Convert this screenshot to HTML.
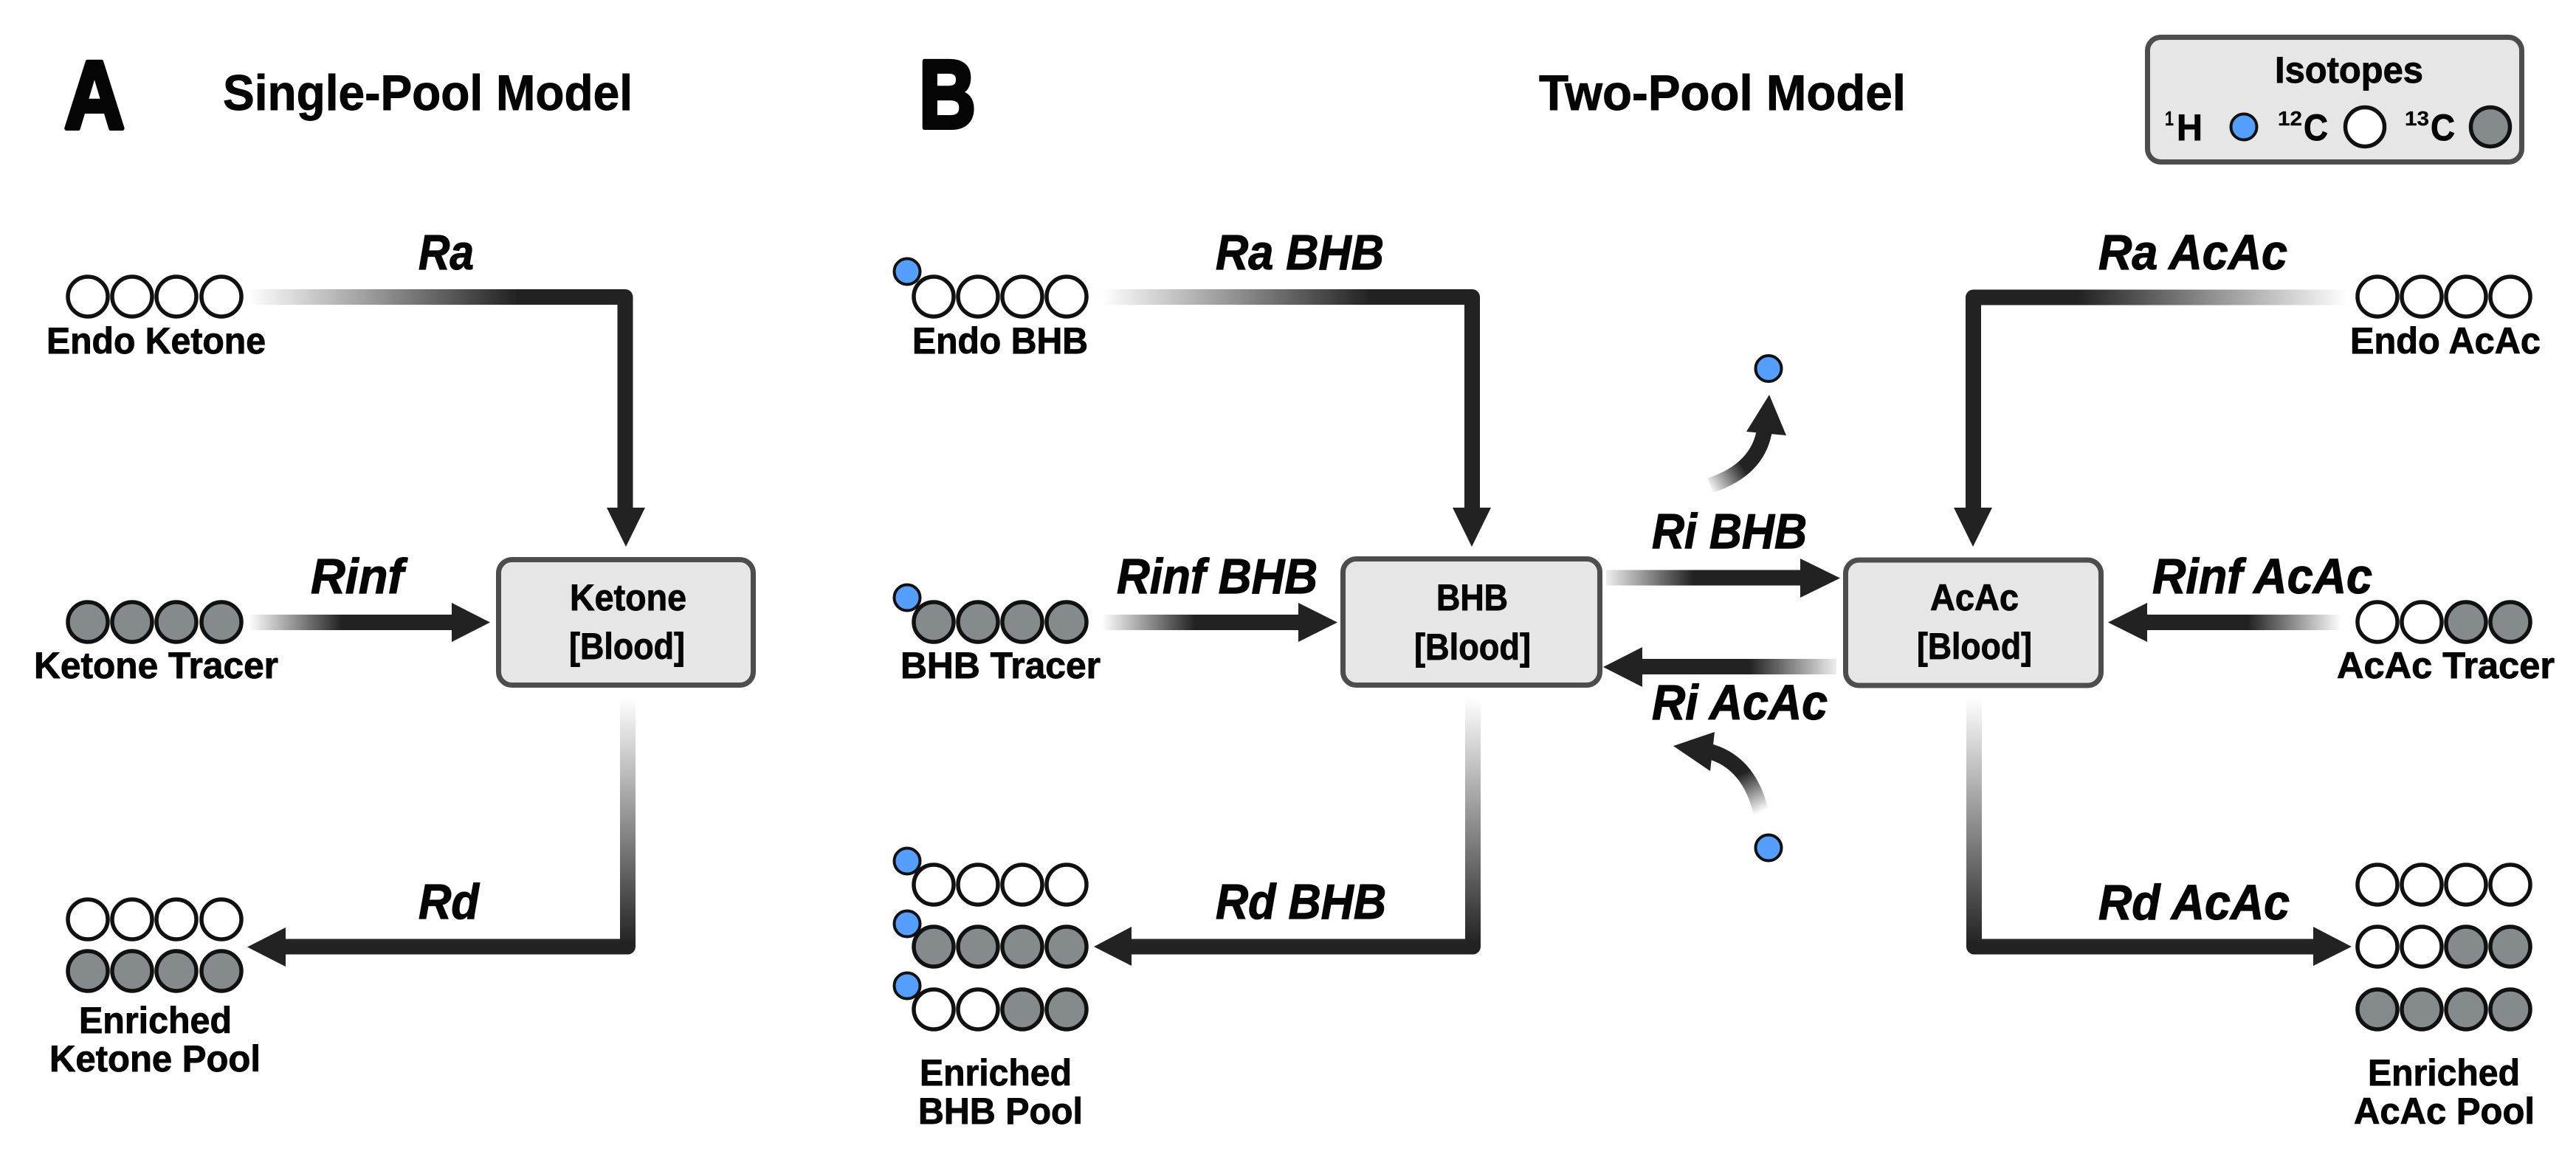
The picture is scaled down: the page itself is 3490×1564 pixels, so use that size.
<!DOCTYPE html>
<html>
<head>
<meta charset="utf-8">
<style>
html,body{margin:0;padding:0;background:#fff;width:3490px;height:1564px;overflow:hidden}
svg{display:block}
text{font-family:"Liberation Sans",sans-serif;font-weight:700;fill:#050505;stroke:#050505;stroke-width:.9}
.t{font-size:68px}
.l{font-size:50px}
.r{font-size:67px;font-style:italic;stroke-width:1.2}
.b{font-size:50px}
.s{font-size:28px;stroke-width:.3}
.big{font-size:131px;stroke-width:6;stroke-linejoin:round}
.w{fill:#fff;stroke:#111;stroke-width:5.5}
.g{fill:#858a8c;stroke:#111;stroke-width:5.5}
.h{fill:#549ffd;stroke:#111;stroke-width:4}
.box{fill:#e6e6e6;stroke:#4d4d4d;stroke-width:7}
.a{fill:none;stroke-width:21;stroke-linejoin:round}
.d{fill:#222}
</style>
</head>
<body>
<svg width="3490" height="1564" viewBox="0 0 3490 1564" xmlns="http://www.w3.org/2000/svg">
<defs>
<linearGradient id="g1" gradientUnits="userSpaceOnUse" x1="337" y1="0" x2="700" y2="0"><stop offset="0" stop-color="#fff"/><stop offset="1" stop-color="#222"/></linearGradient>
<linearGradient id="g2" gradientUnits="userSpaceOnUse" x1="337" y1="0" x2="463" y2="0"><stop offset="0" stop-color="#fff"/><stop offset="1" stop-color="#222"/></linearGradient>
<linearGradient id="g3" gradientUnits="userSpaceOnUse" x1="0" y1="946" x2="0" y2="1280"><stop offset="0" stop-color="#fff"/><stop offset="1" stop-color="#222"/></linearGradient>
<linearGradient id="g4" gradientUnits="userSpaceOnUse" x1="1493" y1="0" x2="1856" y2="0"><stop offset="0" stop-color="#fff"/><stop offset="1" stop-color="#222"/></linearGradient>
<linearGradient id="g5" gradientUnits="userSpaceOnUse" x1="1493" y1="0" x2="1619" y2="0"><stop offset="0" stop-color="#fff"/><stop offset="1" stop-color="#222"/></linearGradient>
<linearGradient id="g6" gradientUnits="userSpaceOnUse" x1="3180" y1="0" x2="2815" y2="0"><stop offset="0" stop-color="#fff"/><stop offset="1" stop-color="#222"/></linearGradient>
<linearGradient id="g7" gradientUnits="userSpaceOnUse" x1="3172" y1="0" x2="3046" y2="0"><stop offset="0" stop-color="#fff"/><stop offset="1" stop-color="#222"/></linearGradient>
<linearGradient id="g8" gradientUnits="userSpaceOnUse" x1="2176" y1="0" x2="2294" y2="0"><stop offset="0" stop-color="#eee"/><stop offset="1" stop-color="#222"/></linearGradient>
<linearGradient id="g9" gradientUnits="userSpaceOnUse" x1="2488" y1="0" x2="2370" y2="0"><stop offset="0" stop-color="#eee"/><stop offset="1" stop-color="#222"/></linearGradient>
<linearGradient id="g10" gradientUnits="userSpaceOnUse" x1="2314" y1="660" x2="2360" y2="630"><stop offset="0" stop-color="#fff"/><stop offset="1" stop-color="#222"/></linearGradient>
<linearGradient id="g11" gradientUnits="userSpaceOnUse" x1="2386" y1="1101" x2="2360" y2="1048"><stop offset="0" stop-color="#fff"/><stop offset="1" stop-color="#222"/></linearGradient>
</defs>

<!-- Headings -->
<text class="big" x="87" y="174" textLength="82" lengthAdjust="spacingAndGlyphs">A</text>
<text class="t" x="302" y="149" textLength="555" lengthAdjust="spacingAndGlyphs">Single-Pool Model</text>
<text class="big" x="1245" y="173" textLength="77" lengthAdjust="spacingAndGlyphs">B</text>
<text class="t" x="2085" y="149" textLength="497" lengthAdjust="spacingAndGlyphs">Two-Pool Model</text>

<!-- Legend -->
<rect class="box" x="2909.5" y="50.5" width="507" height="169" rx="18"/>
<text class="b" x="3082" y="112" textLength="201" lengthAdjust="spacingAndGlyphs">Isotopes</text>
<text class="s" x="2933" y="170" textLength="12" lengthAdjust="spacingAndGlyphs">1</text>
<text class="b" x="2949" y="190" textLength="35" lengthAdjust="spacingAndGlyphs">H</text>
<circle class="h" cx="3040" cy="172" r="17.5"/>
<text class="s" x="3086" y="170" textLength="33" lengthAdjust="spacingAndGlyphs">12</text>
<text class="b" x="3121" y="190" textLength="33" lengthAdjust="spacingAndGlyphs">C</text>
<circle class="w" cx="3204" cy="172" r="26.5"/>
<text class="s" x="3258" y="170" textLength="33" lengthAdjust="spacingAndGlyphs">13</text>
<text class="b" x="3293" y="190" textLength="33" lengthAdjust="spacingAndGlyphs">C</text>
<circle class="g" cx="3374" cy="172" r="26.5"/>

<!-- Panel A -->
<path class="a" stroke="url(#g1)" d="M337 402.5H847V690"/>
<polygon class="d" points="822,688 874,688 848,741"/>
<path class="a" stroke="url(#g2)" d="M337 843.5H615"/>
<polygon class="d" points="612,817 664,843.5 612,870"/>
<path class="a" stroke="url(#g3)" d="M850.5 946V1283H385"/>
<polygon class="d" points="387,1257 335,1283.5 387,1310"/>
<rect class="box" x="675.5" y="758.5" width="345" height="170" rx="18"/>
<text class="b" x="772" y="827" textLength="158" lengthAdjust="spacingAndGlyphs">Ketone</text>
<text class="b" x="771" y="893" textLength="157" lengthAdjust="spacingAndGlyphs">[Blood]</text>
<text class="r" x="567" y="365" textLength="75" lengthAdjust="spacingAndGlyphs">Ra</text>
<text class="r" x="421" y="804" textLength="126" lengthAdjust="spacingAndGlyphs">Rinf</text>
<text class="r" x="567" y="1245" textLength="82" lengthAdjust="spacingAndGlyphs">Rd</text>

<circle class="w" cx="119" cy="402" r="27"/><circle class="w" cx="179" cy="402" r="27"/><circle class="w" cx="239" cy="402" r="27"/><circle class="w" cx="300" cy="402" r="27"/>
<text class="l" x="63" y="479" textLength="297" lengthAdjust="spacingAndGlyphs">Endo Ketone</text>
<circle class="g" cx="119" cy="843" r="27"/><circle class="g" cx="179" cy="843" r="27"/><circle class="g" cx="239" cy="843" r="27"/><circle class="g" cx="300" cy="843" r="27"/>
<text class="l" x="46" y="919" textLength="331" lengthAdjust="spacingAndGlyphs">Ketone Tracer</text>
<circle class="w" cx="119" cy="1246" r="27"/><circle class="w" cx="179" cy="1246" r="27"/><circle class="w" cx="239" cy="1246" r="27"/><circle class="w" cx="300" cy="1246" r="27"/>
<circle class="g" cx="119" cy="1316" r="27"/><circle class="g" cx="179" cy="1316" r="27"/><circle class="g" cx="239" cy="1316" r="27"/><circle class="g" cx="300" cy="1316" r="27"/>
<text class="l" x="107" y="1400" textLength="207" lengthAdjust="spacingAndGlyphs">Enriched</text>
<text class="l" x="67" y="1452" textLength="286" lengthAdjust="spacingAndGlyphs">Ketone Pool</text>

<!-- Panel B arrows -->
<path class="a" stroke="url(#g4)" d="M1486 402.5H1994.5V690"/>
<polygon class="d" points="1968,688 2020,688 1994,741"/>
<path class="a" stroke="url(#g5)" d="M1486 843.5H1762"/>
<polygon class="d" points="1759,817 1812,843.5 1759,870"/>
<path class="a" stroke="url(#g3)" d="M1995.5 946V1283H1530"/>
<polygon class="d" points="1533,1256 1482,1283 1533,1309"/>

<path class="a" stroke="url(#g6)" d="M3180 403H2673.5V690"/>
<polygon class="d" points="2647,688 2699,688 2673,741"/>
<path class="a" stroke="url(#g7)" d="M3172 843.5H2905"/>
<polygon class="d" points="2909,817 2856,843.5 2909,870"/>
<path class="a" stroke="url(#g3)" d="M2674.5 946V1283H3137"/>
<polygon class="d" points="3134,1256 3186,1283 3134,1309"/>

<path class="a" stroke="url(#g8)" d="M2176 783H2442"/>
<polygon class="d" points="2439,757 2493,783.5 2439,810"/>
<path class="a" stroke="url(#g9)" d="M2488 903.5H2222"/>
<polygon class="d" points="2225,877 2172,904 2225,931"/>

<path class="a" stroke="url(#g10)" d="M2317 658Q2380 637 2390 586"/>
<polygon class="d" points="2397,535 2366,585 2420,590"/>
<path class="a" stroke="url(#g11)" d="M2386 1101.5Q2370 1033 2315 1018"/>
<polygon class="d" points="2267,1011 2323,992 2317,1045"/>

<circle class="h" cx="2396" cy="499.5" r="17.5"/>
<circle class="h" cx="2396" cy="1149" r="17.5"/>

<!-- Boxes B -->
<rect class="box" x="1819.5" y="757.5" width="348" height="171" rx="18"/>
<text class="b" x="1946" y="827" textLength="97" lengthAdjust="spacingAndGlyphs">BHB</text>
<text class="b" x="1916" y="894" textLength="158" lengthAdjust="spacingAndGlyphs">[Blood]</text>
<rect class="box" x="2500.5" y="759" width="346" height="170" rx="18"/>
<text class="b" x="2615" y="827" textLength="120" lengthAdjust="spacingAndGlyphs">AcAc</text>
<text class="b" x="2597" y="893" textLength="156" lengthAdjust="spacingAndGlyphs">[Blood]</text>

<!-- Rate labels B -->
<text class="r" x="1647" y="365" textLength="228" lengthAdjust="spacingAndGlyphs">Ra BHB</text>
<text class="r" x="1513" y="804" textLength="272" lengthAdjust="spacingAndGlyphs">Rinf BHB</text>
<text class="r" x="1647" y="1245" textLength="231" lengthAdjust="spacingAndGlyphs">Rd BHB</text>
<text class="r" x="2843" y="365" textLength="256" lengthAdjust="spacingAndGlyphs">Ra AcAc</text>
<text class="r" x="2916" y="804" textLength="298" lengthAdjust="spacingAndGlyphs">Rinf AcAc</text>
<text class="r" x="2843" y="1246" textLength="259" lengthAdjust="spacingAndGlyphs">Rd AcAc</text>
<text class="r" x="2238" y="743" textLength="210" lengthAdjust="spacingAndGlyphs">Ri BHB</text>
<text class="r" x="2238" y="975" textLength="238" lengthAdjust="spacingAndGlyphs">Ri AcAc</text>

<!-- BHB molecules -->
<circle class="h" cx="1229" cy="368" r="17.5"/>
<circle class="w" cx="1265" cy="402" r="27"/><circle class="w" cx="1325" cy="402" r="27"/><circle class="w" cx="1385" cy="402" r="27"/><circle class="w" cx="1445" cy="402" r="27"/>
<text class="l" x="1236" y="479" textLength="238" lengthAdjust="spacingAndGlyphs">Endo BHB</text>

<circle class="h" cx="1229" cy="810" r="17.5"/>
<circle class="g" cx="1265" cy="843" r="27"/><circle class="g" cx="1325" cy="843" r="27"/><circle class="g" cx="1385" cy="843" r="27"/><circle class="g" cx="1445" cy="843" r="27"/>
<text class="l" x="1220" y="919" textLength="271" lengthAdjust="spacingAndGlyphs">BHB Tracer</text>

<circle class="h" cx="1229" cy="1167" r="17.5"/>
<circle class="w" cx="1265" cy="1199" r="27"/><circle class="w" cx="1325" cy="1199" r="27"/><circle class="w" cx="1385" cy="1199" r="27"/><circle class="w" cx="1445" cy="1199" r="27"/>
<circle class="h" cx="1229" cy="1252" r="17.5"/>
<circle class="g" cx="1265" cy="1283" r="27"/><circle class="g" cx="1325" cy="1283" r="27"/><circle class="g" cx="1385" cy="1283" r="27"/><circle class="g" cx="1445" cy="1283" r="27"/>
<circle class="h" cx="1229" cy="1336" r="17.5"/>
<circle class="w" cx="1265" cy="1368" r="27"/><circle class="w" cx="1325" cy="1368" r="27"/><circle class="g" cx="1385" cy="1368" r="27"/><circle class="g" cx="1445" cy="1368" r="27"/>
<text class="l" x="1246" y="1471" textLength="206" lengthAdjust="spacingAndGlyphs">Enriched</text>
<text class="l" x="1244" y="1523" textLength="223" lengthAdjust="spacingAndGlyphs">BHB Pool</text>

<!-- AcAc molecules -->
<circle class="w" cx="3221" cy="402" r="27"/><circle class="w" cx="3281" cy="402" r="27"/><circle class="w" cx="3341" cy="402" r="27"/><circle class="w" cx="3401" cy="402" r="27"/>
<text class="l" x="3184" y="479" textLength="258" lengthAdjust="spacingAndGlyphs">Endo AcAc</text>

<circle class="w" cx="3221" cy="843" r="27"/><circle class="w" cx="3281" cy="843" r="27"/><circle class="g" cx="3341" cy="843" r="27"/><circle class="g" cx="3401" cy="843" r="27"/>
<text class="l" x="3166" y="919" textLength="295" lengthAdjust="spacingAndGlyphs">AcAc Tracer</text>

<circle class="w" cx="3221" cy="1199" r="27"/><circle class="w" cx="3281" cy="1199" r="27"/><circle class="w" cx="3341" cy="1199" r="27"/><circle class="w" cx="3401" cy="1199" r="27"/>
<circle class="w" cx="3221" cy="1283" r="27"/><circle class="w" cx="3281" cy="1283" r="27"/><circle class="g" cx="3341" cy="1283" r="27"/><circle class="g" cx="3401" cy="1283" r="27"/>
<circle class="g" cx="3221" cy="1368" r="27"/><circle class="g" cx="3281" cy="1368" r="27"/><circle class="g" cx="3341" cy="1368" r="27"/><circle class="g" cx="3401" cy="1368" r="27"/>
<text class="l" x="3208" y="1471" textLength="206" lengthAdjust="spacingAndGlyphs">Enriched</text>
<text class="l" x="3189" y="1523" textLength="245" lengthAdjust="spacingAndGlyphs">AcAc Pool</text>
</svg>
</body>
</html>
